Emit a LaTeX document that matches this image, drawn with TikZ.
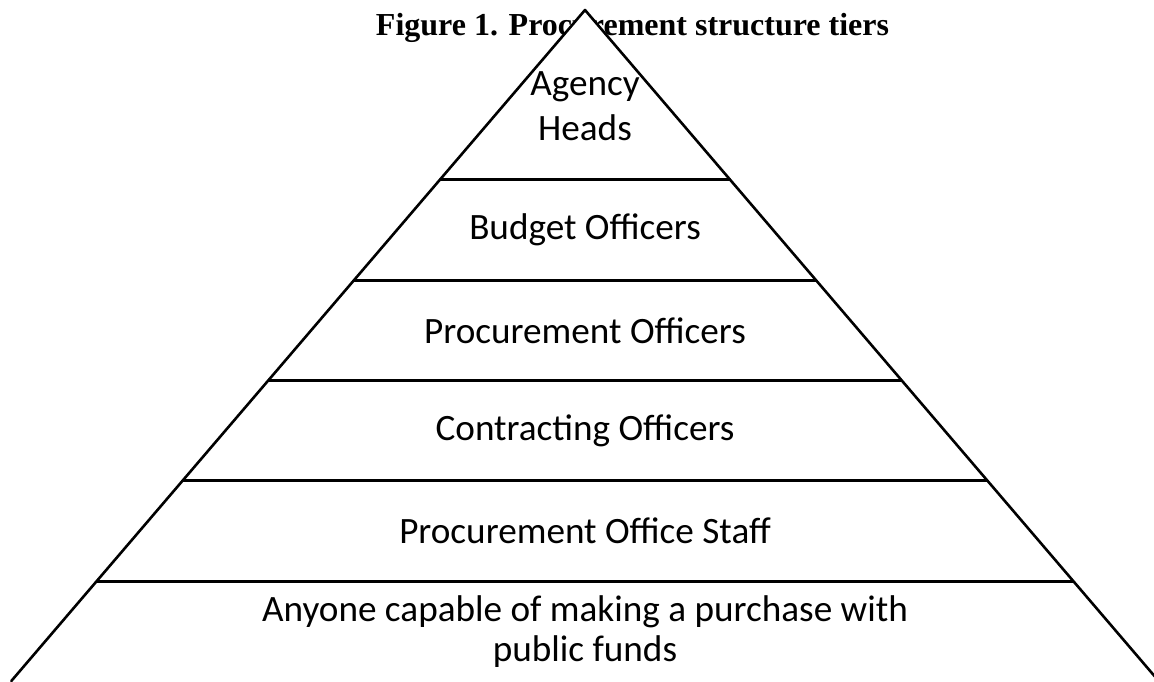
\documentclass[tikz,border=0pt]{standalone}
\usepackage{fontspec}
\setmainfont{Carlito}
\newfontfamily\captionfont{Liberation Serif}
\usepackage{tikz}
\usetikzlibrary{calc}

\begin{document}
\begin{tikzpicture}[line cap=round,line join=round,x=0.5pt,y=-0.5pt,
  tier/.style={align=center,inner sep=0pt,font=\fontsize{18.6}{22.5}\selectfont}]
\useasboundingbox (0,0) rectangle (1154,681);
\clip (0,0) rectangle (1154,681);
\node[anchor=base,font=\captionfont\bfseries\fontsize{16}{20}\selectfont] (caption) at (632.5,35) {Figure 1. Procurement structure tiers};
\coordinate (apex) at (585,10);
\coordinate (bl) at (11.3,681);
\coordinate (br) at (1158.7,681);
\filldraw[fill=white,line width=1.3pt] (bl) -- (apex) -- (br);
\foreach \y in {179,280,380,480,581}
\draw[line width=1.5pt] ($(apex)!{(\y-10)/671}!(bl)$) -- ($(apex)!{(\y-10)/671}!(br)$);
\node[tier] (heads) at (585,106) {Agency\\Heads};
\node[tier] (budget) at (585,230) {Budget Officers};
\node[tier] (procurement) at (585,331) {Procurement Officers};
\node[tier] (contracting) at (585,431) {Contracting Officers};
\node[tier] (staff) at (585,531) {Procurement Office Staff};
\node[tier,font=\fontsize{18.6}{20}\selectfont] (anyone) at (585,632) {Anyone capable of making a purchase with\\public funds};
\end{tikzpicture}
\end{document}
